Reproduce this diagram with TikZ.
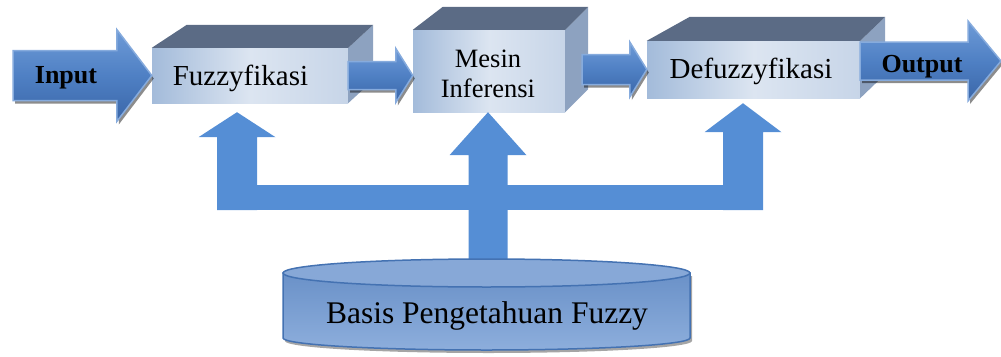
\documentclass[tikz,border=0pt]{standalone}
\usepackage{fontspec}
\setmainfont{Liberation Serif}
\usetikzlibrary{calc,shadows}

\definecolor{arrowtop}{HTML}{6E9BD7}
\definecolor{arrowmid}{HTML}{4F80C4}
\definecolor{arrowbot}{HTML}{3A66A8}
\definecolor{arrowedge}{HTML}{86ABDD}
\definecolor{treeblue}{HTML}{558ED5}
\definecolor{cubetop}{HTML}{5B6B85}
\definecolor{cubeside}{HTML}{8DA2C0}
\definecolor{faceleft}{HTML}{A3BBDA}
\definecolor{facemid}{HTML}{DCE5F1}
\definecolor{faceright}{HTML}{C7D5E8}
\definecolor{cyltopc}{HTML}{6A91C8}
\definecolor{cylbotc}{HTML}{8DAEDC}
\definecolor{cylcap}{HTML}{87A8D7}
\definecolor{cyledge}{HTML}{4472B2}

\tikzset{
  face/.style={rectangle, inner sep=0pt, left color=faceleft, right color=faceright, middle color=facemid},
  lbl/.style={anchor=base, inner sep=0pt, font=\fontsize{29}{30}\selectfont},
  boldlbl/.style={anchor=base, inner sep=0pt, font=\fontsize{26}{28}\selectfont\bfseries},
  blockarr/.style={draw=arrowedge, line width=1.5pt, line join=miter,
    top color=arrowtop, bottom color=arrowbot, middle color=arrowmid,
    drop shadow={shadow xshift=2pt, shadow yshift=-3pt, fill=black, opacity=0.45}},
}

% side and top faces of a box whose front is node #1
\newcommand\cubeparts[4]{%
  \fill[cubeside] (#1.north east) -- ($(#1.north east)+(#3,-#4)$) -- ($(#1.south east)+(#3,-#4)$) -- (#1.south east) -- cycle;
  \fill[cubetop] (#1.north west) -- ($(#1.north west)+(#2,-#4)$) -- ($(#1.north east)+(#3,-#4)$) -- (#1.north east) -- cycle;}

% horizontal block arrow: start, tip, shaft half height, head half height, head length
\newcommand\hblock[5]{%
  \path[blockarr] ($(#1)+(0,-#3)$) -- ($(#2)+(-#5,-#3)$) -- ($(#2)+(-#5,-#4)$) -- (#2)
    -- ($(#2)+(-#5,#4)$) -- ($(#2)+(-#5,#3)$) -- ($(#1)+(0,#3)$) -- cycle;}

% vertical flat arrow pointing up: base, tip, shaft half width, head half width, head length
\newcommand\vblock[5]{%
  \fill[treeblue] ($(#1)+(-#3,0)$) -- ($(#2)+(-#3,#5)$) -- ($(#2)+(-#4,#5)$) -- (#2)
    -- ($(#2)+(#4,#5)$) -- ($(#2)+(#3,#5)$) -- ($(#1)+(#3,0)$) -- cycle;}

\begin{document}
\begin{tikzpicture}[x=1pt, y=-1pt]
\useasboundingbox (0,0) rectangle (1001,356);

% process boxes
\node[face, minimum width=196pt, minimum height=55pt] (fuz) at (250,75.5) {};
\node[face, minimum width=152pt, minimum height=82pt] (mes) at (489,71) {};
\node[face, minimum width=213pt, minimum height=57pt] (def) at (753.5,69.5) {};
\cubeparts{fuz}{35}{25}{23}
\cubeparts{mes}{30}{23}{23}
\cubeparts{def}{43}{25}{24}

\node[lbl] (fuzl) at (240.5,85) {Fuzzyfikasi};
\node[lbl, font=\fontsize{26.5}{28}\selectfont] (mesl1) at (488,67) {Mesin};
\node[lbl, font=\fontsize{26.5}{28}\selectfont] (mesl2) at (488,97) {Inferensi};
\node[lbl] (defl) at (751,78) {Defuzzyfikasi};

% flow arrows
\coordinate (in) at (13,75.5);
\coordinate (out) at (1001,61);
\hblock{in}{fuz.west}{25}{46}{35}
\hblock{fuz.east}{fuz.east -| mes.west}{14}{27}{17}
\coordinate (a3) at ($(mes.east)+(17,0)$);
\hblock{a3 |- def.west}{def.west}{15}{27.5}{17}
\hblock{def.east |- out}{out}{19}{40}{33}

\node[boldlbl] (inl) at (66,83) {Input};
\node[boldlbl] (outl) at (922,72) {Output};

% knowledge base feeding the three stages
\coordinate (tipL) at ($(fuz.south)+(-13,9)$);
\coordinate (tipM) at ($(mes.south)+(-1,0)$);
\coordinate (tipR) at ($(def.south)+(-10.5,5)$);
\coordinate (baseL) at (tipL |- 0,210);
\coordinate (baseR) at (tipR |- 0,210);
\coordinate (kbtop) at (tipM |- 0,266);
\fill[treeblue] ($(baseL)+(-20,0)$) rectangle ($(baseR)+(20,-25)$);
\vblock{baseL}{tipL}{20}{38.5}{25}
\vblock{kbtop}{tipM}{19.5}{38.5}{43}
\vblock{baseR}{tipR}{20}{38.5}{29}

% cylinder
\fill[black!70, opacity=0.5] (285,276) -- (285,341) arc[start angle=180, end angle=0, x radius=203.5, y radius=12] -- (692,276) -- cycle;
\path[draw=cyledge, line width=1.5pt, top color=cyltopc, bottom color=cylbotc]
  (283,273) -- (283,338) arc[start angle=180, end angle=0, x radius=203.5, y radius=12] -- (690,273) -- cycle;
\draw[cyledge, line width=1.5pt, fill=cylcap] (486.5,273) ellipse [x radius=203.5, y radius=14];
\node[lbl, font=\fontsize{31.5}{33}\selectfont] (kb) at (487,323) {Basis Pengetahuan Fuzzy};
\end{tikzpicture}
\end{document}
